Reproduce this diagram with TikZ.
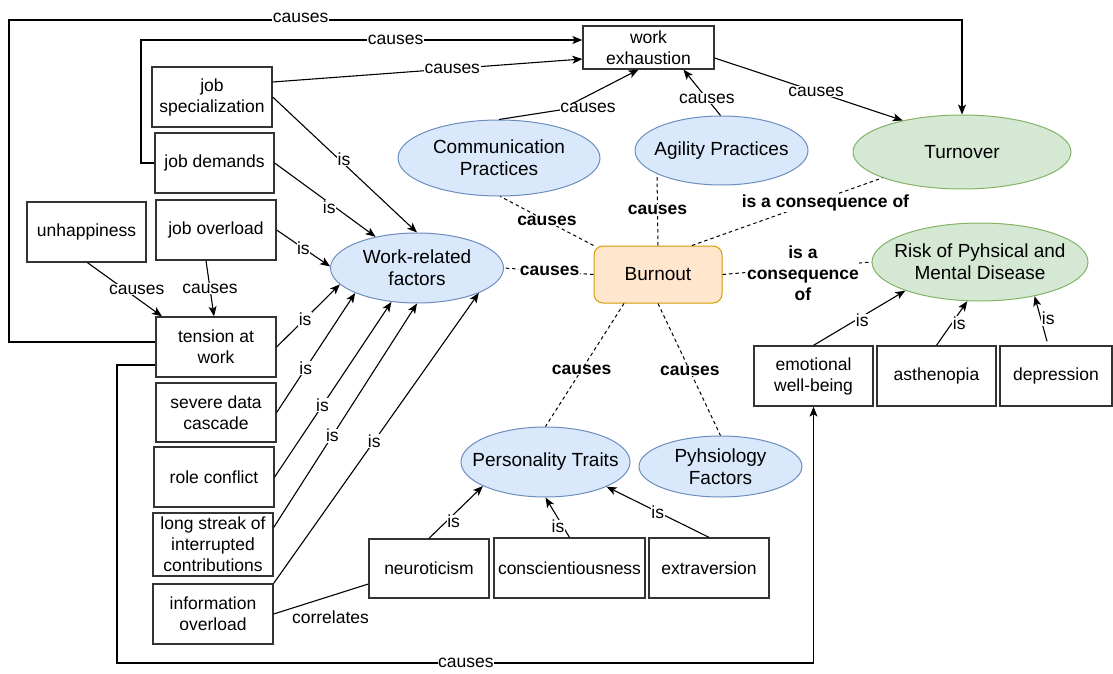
\documentclass[tikz,border=0pt]{standalone}
\usepackage{fontspec}
\setmainfont{Liberation Sans}
\usetikzlibrary{arrows.meta,shapes.geometric}
\definecolor{bfill}{HTML}{DAE8FC}
\definecolor{bdraw}{HTML}{6C8EBF}
\definecolor{gfill}{HTML}{D5E8D4}
\definecolor{gdraw}{HTML}{82B366}
\definecolor{ofill}{HTML}{FFE6CC}
\definecolor{odraw}{HTML}{D79B00}
\begin{document}
\begin{tikzpicture}[x=1pt,y=-1pt,
 box/.style={draw=black!80, line width=1.3pt, fill=white, align=center, inner sep=1pt, font=\fontsize{17.5}{21}\selectfont},
 ell/.style={ellipse, line width=1pt, align=center, inner xsep=-15pt, inner ysep=-3pt, font=\fontsize{19}{22}\selectfont},
 bell/.style={ell, fill=bfill, draw=bdraw},
 gell/.style={ell, fill=gfill, draw=gdraw},
 arr/.style={draw=black, line width=1.1pt, -{Stealth[length=10pt,width=8pt,inset=2.5pt]}},
 conn/.style={draw=black, line width=1.1pt},
 dl/.style={draw=black, line width=1pt, dash pattern=on 3.5pt off 3pt},
 lab/.style={fill=white, inner sep=0.5pt, font=\fontsize{17.5}{20}\selectfont},
 blab/.style={fill=white, inner sep=0.5pt, align=center, font=\bfseries\fontsize{17.5}{21}\selectfont},
]
\fill[white] (0,0) rectangle (1113,674);
\useasboundingbox (0,0) rectangle (1113,674);

% boxes
\node[box, minimum width=131, minimum height=43] (we) at (648.5,47.5) {work\\exhaustion};
\node[box, minimum width=120, minimum height=60] (js) at (212,97) {job\\specialization};
\node[box, minimum width=119, minimum height=60] (jd) at (214.5,163) {job demands};
\node[box, minimum width=120, minimum height=60] (jo) at (216,230) {job overload};
\node[box, minimum width=119, minimum height=60] (un) at (86.5,232) {unhappiness};
\node[box, minimum width=120, minimum height=60] (ta) at (216,347) {tension at\\work};
\node[box, minimum width=120, minimum height=59] (sd) at (216,412.5) {severe data\\cascade};
\node[box, minimum width=120, minimum height=60] (rc) at (214,477) {role conflict};
\node[box, minimum width=120, minimum height=63] (ls) at (213,544.5) {long streak of\\interrupted\\contributions};
\node[box, minimum width=120, minimum height=60] (io) at (213,614) {information\\overload};
\node[box, minimum width=120, minimum height=59] (ne) at (429,568.5) {neuroticism};
\node[box, minimum width=151, minimum height=60] (co) at (569.5,568) {conscientiousness};
\node[box, minimum width=120, minimum height=60] (ex) at (709,568) {extraversion};
\node[box, minimum width=119, minimum height=60] (ew) at (813.5,376) {emotional\\well-being};
\node[box, minimum width=119, minimum height=60] (as) at (936.5,376) {asthenopia};
\node[box, minimum width=112, minimum height=60] (de) at (1056,376) {depression};

% ellipses
\node[bell, minimum width=202, minimum height=76] (cp) at (499,158) {Communication\\Practices};
\node[bell, minimum width=173, minimum height=69] (ap) at (721.5,150.5) {Agility Practices};
\node[gell, minimum width=218, minimum height=74] (to) at (962,152) {Turnover};
\node[gell, minimum width=216, minimum height=78] (rk) at (980,262) {Risk of Pyhsical and\\Mental Disease};
\node[bell, minimum width=173, minimum height=70] (wrf) at (417,268) {Work-related\\factors};
\node[bell, minimum width=169, minimum height=70] (pt) at (545.5,462) {Personality Traits};
\node[bell, minimum width=163, minimum height=61] (pf) at (720.5,466.5) {Pyhsiology\\Factors};
\node[draw=odraw, fill=ofill, rounded corners=9pt, line width=1pt, minimum width=128, minimum height=57, font=\fontsize{19}{22}\selectfont] (bu) at (658,274.5) {Burnout};

% long routed connectors
\draw[arr] ([yshift=5]ta.west) -| (9,20) -- node[lab,pos=0.306,yshift=2]{causes} (to.north |- 0,20) -- (to.north);
\draw[arr] (jd.west) -| (141,40) -- node[lab,pos=0.577]{causes} ([yshift=7.5]we.west);
\draw[arr] ([yshift=15]js.east) -- node[lab,pos=0.58]{causes} ([yshift=-11.5]we.west);
\draw[arr] (cp.north) -- (560,110) -- ([xshift=-10]we.south) node[lab, at={(588,108)}]{causes};
\draw[arr] ([xshift=-1]ap.north) -- node[lab,pos=0.37]{causes} ([xshift=35]we.south);
\draw[arr] ([yshift=-10.5]we.east) -- node[lab,pos=0.54]{causes} (to.152.7);
\draw[arr] ([yshift=-18]ta.west) -| (117,663) -- node[lab,pos=0.501]{causes} (ew.south |- 0,663) -- (ew.south);

% dashed burnout relations
\draw[dl] (bu.north west) -- node[blab,pos=0.5]{causes} (cp.272);
\draw[dl] (bu.north) -- node[blab,pos=0.5]{causes} (ap.200.2);
\draw[dl] ([xshift=34]bu.north) -- node[blab,pos=0.7,yshift=-5]{is a consequence of} (to.198.2);
\draw[dl] (bu.west) -- node[blab,pos=0.49]{causes} (wrf.east);
\draw[dl] (bu.east) -- node[blab,pos=0.54,yshift=-5]{is a\\consequence\\of} (rk.west);
\draw[dl] ([xshift=-34]bu.south) -- node[blab,pos=0.54]{causes} (pt.north);
\draw[dl] (bu.south) -- node[blab,pos=0.51]{causes} (pf.north);

% is -> work-related factors
\draw[arr] (js.east) -- node[lab,pos=0.46,xshift=5]{is} (wrf.90);
\draw[arr] (jd.east) -- node[lab,pos=0.6,xshift=-6]{is} (wrf.143.6);
\draw[arr] (jo.east) -- node[lab,pos=0.5]{is} (wrf.179);
\draw[arr] (ta.east) -- node[lab,pos=0.45]{is} (wrf.192);
\draw[arr] (sd.east) -- node[lab,pos=0.37]{is} (wrf.202);
\draw[arr] (rc.east) -- node[lab,pos=0.41]{is} (wrf.233);
\draw[arr] ([yshift=17]ls.east) -- node[lab,pos=0.41]{is} (wrf.270);
\draw[arr] (io.north east) -- node[lab,pos=0.49]{is} (wrf.338);

% causes -> tension at work
\draw[arr] ([xshift=1]un.south) -- node[lab,pos=0.5,xshift=12]{causes} ([xshift=-54]ta.north);
\draw[arr] ([xshift=-10]jo.south) -- node[lab,pos=0.5]{causes} ([xshift=-2]ta.north);

% correlates
\draw[conn] (io.east) -- node[lab,pos=0.6,yshift=-21]{correlates} ([yshift=-15.5]ne.west);

% is -> risk
\draw[arr] (ew.north) -- node[lab,pos=0.45,anchor=west]{is} (rk.201);
\draw[arr] (as.north) -- node[lab,pos=0.5,anchor=west]{is} (rk.252);
\draw[arr] ([xshift=-9,yshift=4]de.north) -- node[lab,pos=0.5,anchor=west]{is} (rk.328.4);

% is -> personality traits
\draw[arr] (ne.north) -- node[lab,pos=0.32,anchor=west]{is} (pt.201.8);
\draw[arr] (co.north) -- node[lab,pos=0.27,xshift=-5]{is} (pt.270);
\draw[arr] (ex.north) -- node[lab,pos=0.5]{is} (pt.338.7);
\end{tikzpicture}
\end{document}
